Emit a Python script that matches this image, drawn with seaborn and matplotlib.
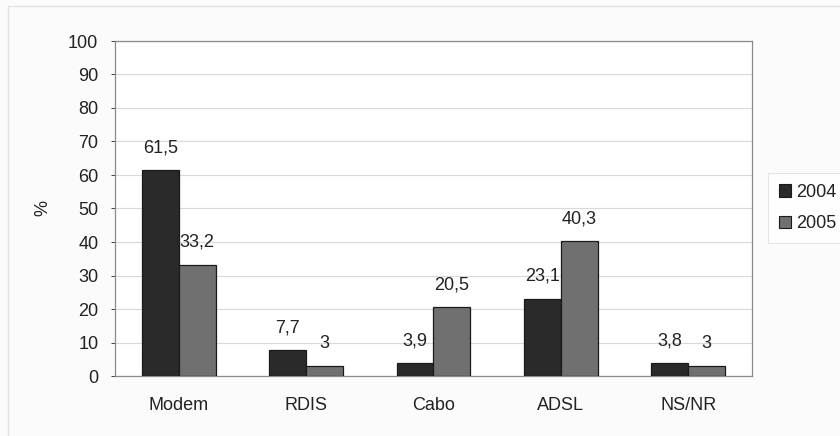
import matplotlib
matplotlib.use("Agg")
import matplotlib.pyplot as plt
import matplotlib.patches as mpatches
import seaborn as sns
import pandas as pd

# Access type shares (%) by year
categories = ["Modem", "RDIS", "Cabo", "ADSL", "NS/NR"]
years = ["2004", "2005"]
values_2004 = [61.5, 7.7, 3.9, 23.1, 3.8]
values_2005 = [33.2, 3.0, 20.5, 40.3, 3.0]
y_ticks = [0, 10, 20, 30, 40, 50, 60, 70, 80, 90, 100]

df = pd.DataFrame({
    "categoria": categories * 2,
    "ano": [years[0]] * len(categories) + [years[1]] * len(categories),
    "valor": values_2004 + values_2005,
})

sns.set_theme(style="white")
plt.rcParams["font.family"] = ["Liberation Sans", "DejaVu Sans"]

FS = 13
TXT = "#222222"

fig = plt.figure(figsize=(8.4, 4.36), dpi=100, facecolor="#fbfbfb")
ax = fig.add_axes([115 / 840, 1 - 376 / 436, (752 - 115) / 840, (376 - 41) / 436])
ax.set_facecolor("white")

palette = {"2004": "#2a2a2a", "2005": "#707070"}
sns.barplot(data=df, x="categoria", y="valor", hue="ano", order=categories,
            hue_order=years, palette=palette, width=0.58, edgecolor="#1a1a1a",
            linewidth=0.9, saturation=1, ax=ax, zorder=3)

ax.set_ylim(0, 100)
ax.set_yticks(y_ticks)
ax.set_xlim(-0.5, len(categories) - 0.5)
ax.yaxis.grid(True, color="#d5dadd", linewidth=0.8, zorder=0)
ax.xaxis.grid(False)
ax.tick_params(axis="y", labelsize=FS, colors=TXT, length=3, left=True, width=0.6, pad=9)
ax.tick_params(axis="x", labelsize=FS, colors=TXT, length=0, pad=15)
ax.set_xlabel("")
ax.set_ylabel("%", fontsize=FS, color=TXT)
ax.yaxis.set_label_coords((51 - 115) / 637, (376 - 208) / 335)

for sp in ax.spines.values():
    sp.set_color("#8a8a8a")
    sp.set_linewidth(0.9)

for container in ax.containers:
    ax.bar_label(container, labels=[f"{v:g}".replace(".", ",") for v in container.datavalues],
                 padding=10, fontsize=FS, color=TXT)

handles = [mpatches.Patch(facecolor=palette[y], edgecolor="#1a1a1a", linewidth=0.8, label=y)
           for y in years]
ax.get_legend().remove()
leg = fig.legend(handles=handles, loc="center left", bbox_to_anchor=(768 / 840, 1 - 208 / 436),
                 frameon=True, fontsize=FS, handlelength=0.7, handleheight=0.7,
                 handletextpad=0.25, labelspacing=0.8, borderpad=0.6, borderaxespad=0,
                 fancybox=False)
leg.get_frame().set_edgecolor("#e0e0e0")
leg.get_frame().set_linewidth(0.8)
leg._legend_box.align = "left"
for t in leg.get_texts():
    t.set_color(TXT)

# Light outer chart frame
fig.patches.append(mpatches.Rectangle((8 / 840, -0.05), 1.0, 1.05 - 6 / 436,
                                      transform=fig.transFigure, fill=False,
                                      edgecolor="#e2e2e2", linewidth=1.0))

fig.savefig("out.png", dpi=100, facecolor=fig.get_facecolor())
